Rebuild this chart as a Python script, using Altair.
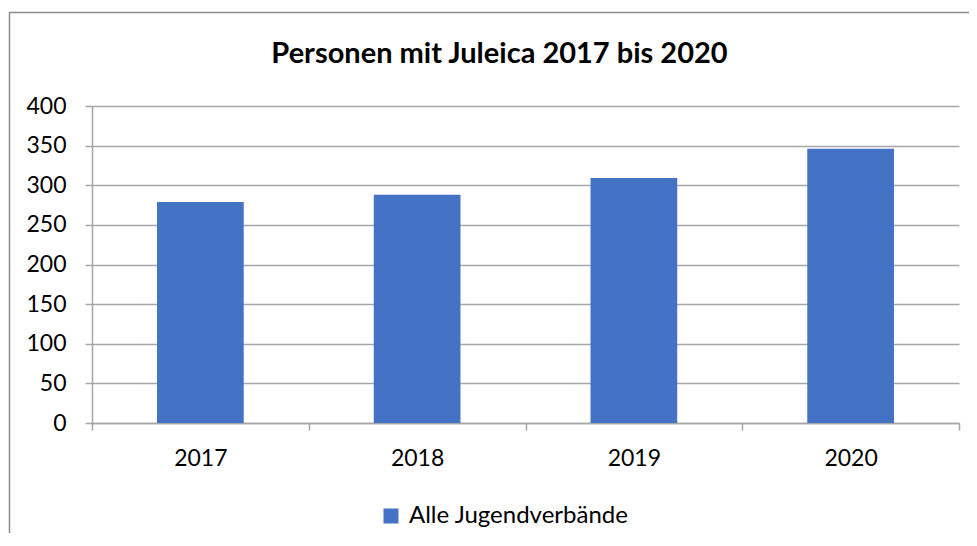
import altair as alt
import pandas as pd

years = ["2017", "2018", "2019", "2020"]
values = [279, 288, 309, 346]
series = ["Alle Jugendverbände"] * 4
y_ticks = [0, 50, 100, 150, 200, 250, 300, 350, 400]

df = pd.DataFrame({"year": years, "value": values, "series": series})

FONT = "Lato"
GRID = "#A6A6A6"
FS = 23

bars = alt.Chart(df).mark_bar(color="#4472C4", width={"band": 0.4}).encode(
    x=alt.X("year:O", title=None,
            scale=alt.Scale(paddingInner=0, paddingOuter=0),
            axis=alt.Axis(labelAngle=0, labelFont=FONT, labelFontSize=FS,
                          labelColor="#000000", labelPadding=17,
                          tickBand="extent", tickSize=7, tickColor=GRID,
                          domainColor=GRID, domainWidth=1.5, tickWidth=1.5)),
    y=alt.Y("value:Q", title=None,
            scale=alt.Scale(domain=[0, 400], nice=False),
            axis=alt.Axis(values=y_ticks, labelFont=FONT, labelFontSize=FS,
                          labelColor="#000000", labelPadding=19,
                          tickSize=7, tickColor=GRID, gridColor=GRID,
                          gridWidth=1.5, tickWidth=1.5,
                          domainColor=GRID, domainWidth=1.5)),
    color=alt.Color("series:N", scale=alt.Scale(range=["#4472C4"]),
                    legend=alt.Legend(title=None, orient="none",
                                      legendX=287, legendY=398,
                                      symbolType="square", symbolSize=225,
                                      symbolStrokeWidth=0, labelLimit=400,
                                      labelFont=FONT, labelFontSize=24,
                                      labelColor="#000000", labelOffset=6)),
)

frame = alt.Chart(pd.DataFrame({"a": [0]})).mark_rect(
    fill=None, stroke="#8C8C8C", strokeWidth=1.5, clip=False
).encode(
    x=alt.value(-82.5), x2=alt.value(895), y=alt.value(-93.5), y2=alt.value(445)
)

chart = alt.layer(frame, bars).properties(
    width=867, height=317,
    autosize=alt.AutoSizeParams(type="none"),
    padding={"left": 84, "top": 98, "right": 10, "bottom": 110},
    title=alt.TitleParams("Personen mit Juleica 2017 bis 2020", font=FONT,
                          fontSize=29, fontWeight="bold", color="#000000",
                          anchor="middle", dx=-26, offset=0, dy=80,
                          baseline="alphabetic"),
).configure_view(stroke=None)

chart.save("out.html", embed_options={"renderer": "svg", "actions": False})
